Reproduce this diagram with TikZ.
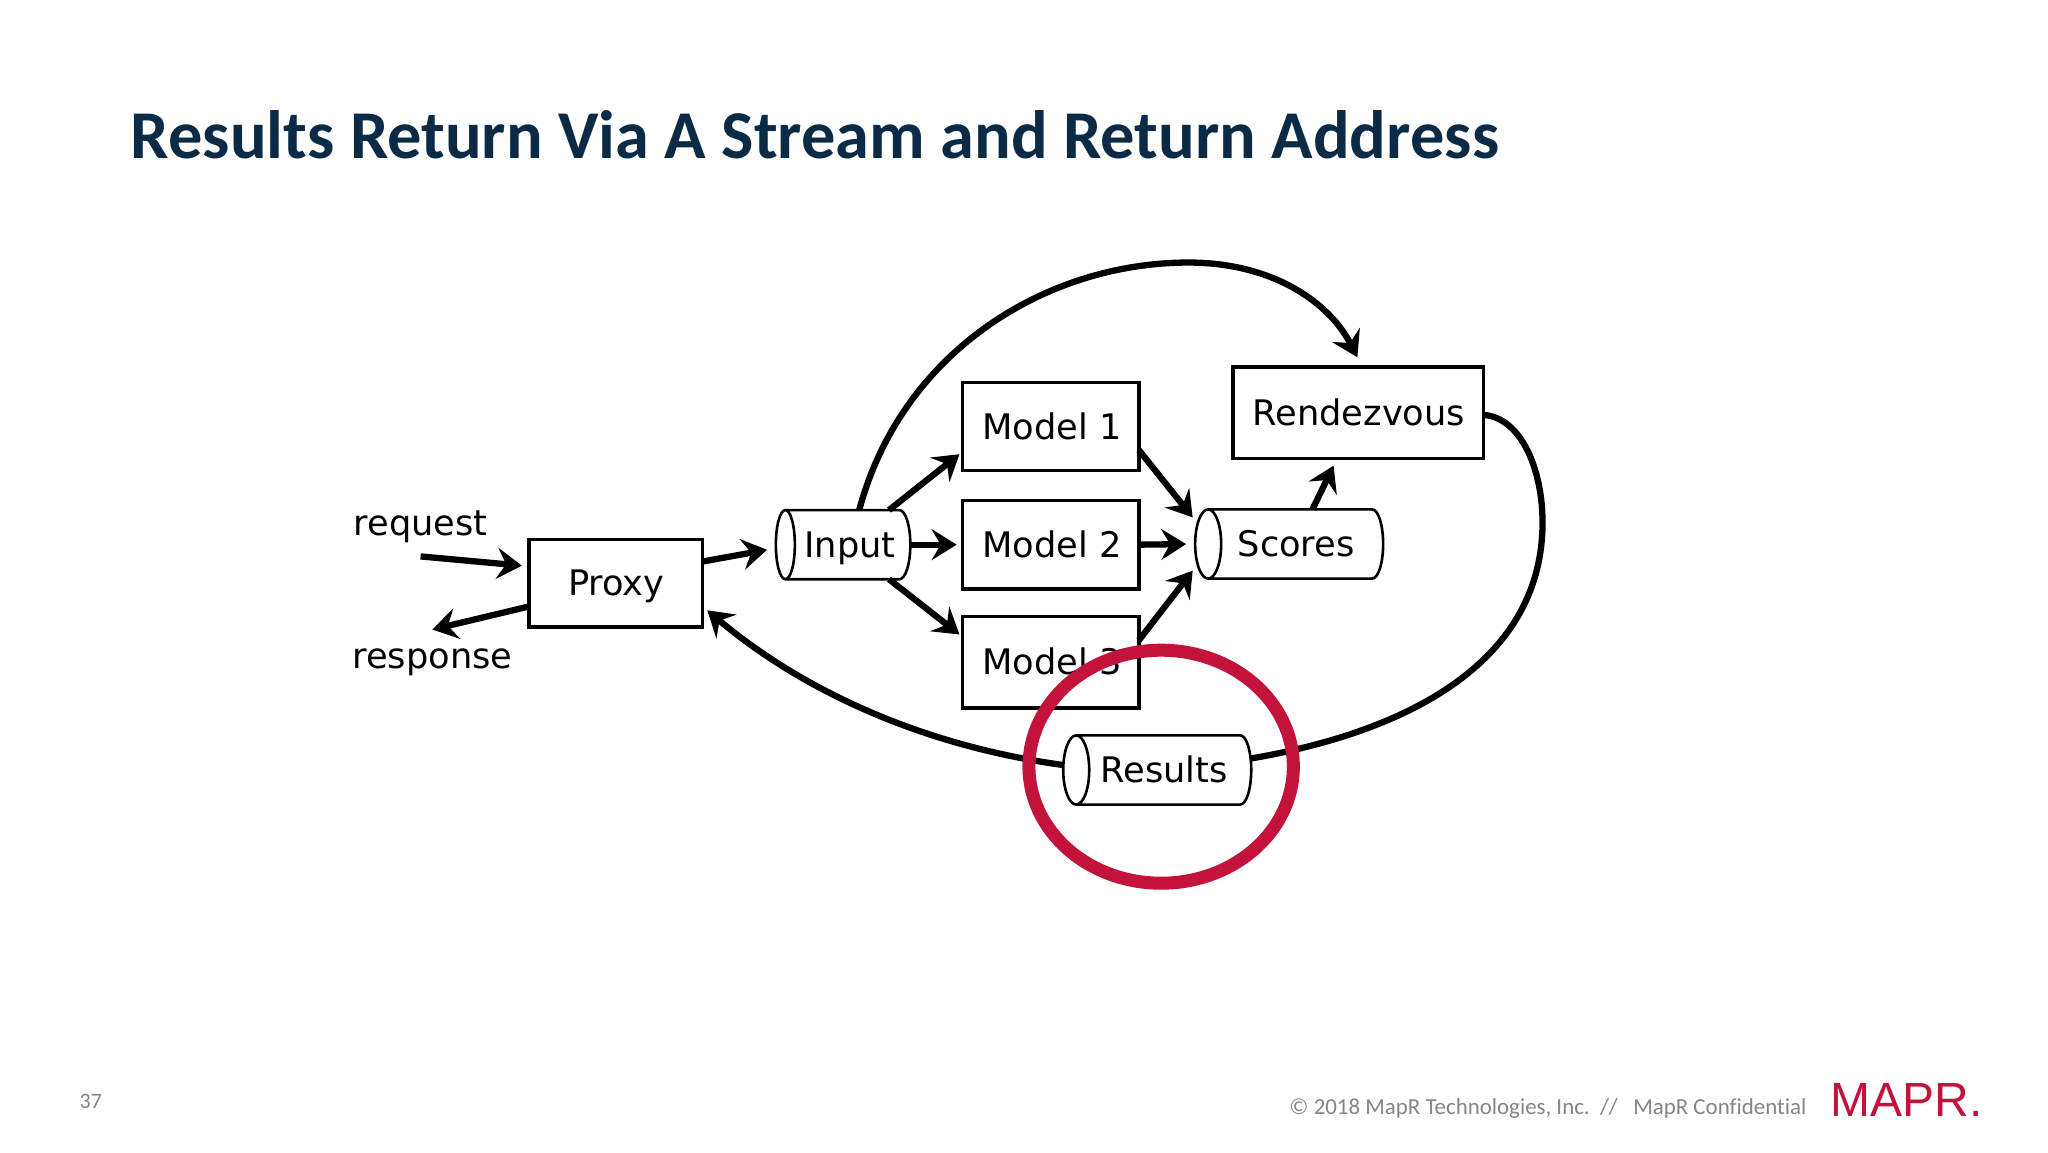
\documentclass[tikz,border=0pt]{standalone}
\usepackage{fontspec}
\setmainfont{DejaVu Sans}
\newfontfamily\slidefont[Ligatures=NoCommon]{Carlito}
\newfontfamily\logofont{Liberation Sans}
\usetikzlibrary{arrows.meta}
\definecolor{titlenavy}{HTML}{0B2A45}
\definecolor{ringred}{HTML}{C4133A}
\definecolor{footgray}{HTML}{858585}
\tikzset{
  diagramtext/.style={font=\fontsize{35.2}{40}\selectfont,text=black,inner sep=0pt,outer sep=0pt},
  box/.style={diagramtext,draw=black,line width=3.2pt,text height=25.5pt,text depth=0pt,align=center},
  cylnode/.style={diagramtext,text height=25.5pt,text depth=0pt},
  cylline/.style={draw=black,line width=2.6pt,line join=round},
  conn/.style={draw=black,line width=6.3pt,-{Stealth[length=25pt,width=31pt,inset=9pt]}},
  plainconn/.style={draw=black,line width=6.3pt},
  ring/.style={draw=ringred,line width=13pt},
  foot/.style={font=\slidefont\fontsize{22}{26}\selectfont,text=footgray,inner sep=0pt,outer sep=0pt},
}
\newcommand{\drawcyl}[2]{%
  \draw[cylline] ([xshift=#2]#1.north west) -- ([xshift=-11pt]#1.north east)
    arc[start angle=90,end angle=-90,x radius=11pt,y radius=34.6pt]
    -- ([xshift=#2]#1.south west)
    arc[start angle=270,end angle=-90,x radius=#2,y radius=34.6pt];}
\begin{document}
\begin{tikzpicture}[x=1.30612pt,y=-1.30612pt]
\useasboundingbox (0,0) rectangle (1568,882);
\fill[white] (0,0) rectangle (1568,882);
% title
\node[font=\slidefont\bfseries\fontsize{68.4}{74}\selectfont,text=titlenavy,anchor=base west,inner sep=0pt] (title) at (100,121) {Results Return Via A Stream and Return Address};
% boxes
\node[box,minimum width=173.7pt,minimum height=87.5pt] (proxy) at (471.5,446.5) {\hspace*{1pt}Proxy};
\node[box,minimum width=176.3pt,minimum height=87.5pt] (m1) at (804.5,326.5) {\hspace*{2pt}Model 1};
\node[box,minimum width=176.3pt,minimum height=88.8pt] (m2) at (804.5,417) {\hspace*{2pt}Model 2};
\node[box,minimum width=176.3pt,minimum height=91.4pt] (m3) at (804.5,507) {\hspace*{2pt}Model 3};
\node[box,minimum width=250.8pt,minimum height=91.4pt] (rv) at (1040,316) {\hspace*{1pt}Rendezvous};
% cylinders
\node[cylnode,minimum width=134.5pt,minimum height=69.2pt] (input) at (645.5,417) {\hspace*{14pt}Input};
\node[cylnode,minimum width=188pt,minimum height=69.2pt] (scores) at (987,416.5) {\hspace*{14pt}Scores};
\node[cylnode,minimum width=188pt,minimum height=69.2pt] (results) at (886,589.5) {\hspace*{14pt}Results};
\drawcyl{input}{9.5pt}\drawcyl{scores}{13pt}\drawcyl{results}{13pt}
% labels
\node[diagramtext,anchor=base] (req) at (322,410) {request};
\node[diagramtext,anchor=base] (resp) at (331,512) {response};
\coordinate (reqstart) at (322,426);
\coordinate (respend) at (331,482);
\coordinate (arcpeak) at (910,201);
\coordinate (rightbulge) at (1181,400);
% connectors
\draw[conn,shorten >=7pt] (reqstart) -- (proxy.169);
\draw[conn] (proxy.195) -- (respend);
\draw[conn,shorten >=9pt] (proxy.14) -- (input.183);
\draw[conn,shorten >=4pt] (input.37) -- (m1.196);
\draw[conn,shorten >=6pt] (input.east) -- (m2.west);
\draw[conn,shorten >=4pt] (input.-37) -- (m3.164);
\draw[conn,shorten >=4pt] (m1.-15) -- (scores.166);
\draw[conn,shorten >=9pt] (m2.east) -- (scores.west);
\draw[conn,shorten >=4pt] (m3.14) -- (scores.194);
\draw[conn,shorten >=8pt] (scores.56) -- (rv.245);
\draw[conn,shorten >=11pt] (input.65) .. controls (690,270) and (800,201) .. (arcpeak) .. controls (975,201) and (1018,232) .. (rv.85);
\draw[plainconn] (rv.-1) .. controls (1165,320) and (1181,360) .. (rightbulge) .. controls (1181,500) and (1090,558) .. (results.7);
\draw[conn,shorten >=6pt] (results.177) .. controls (700,570) and (610,525) .. (proxy.-15);
% highlight ring
\draw[ring] (889,587) ellipse[x radius=132.2pt,y radius=116.5pt];
% footer
\node[foot,anchor=base west] (page) at (61,849) {37};
\node[foot,font=\slidefont\fontsize{22.9}{26}\selectfont,anchor=base east] (copy) at (1383,853) {© 2018 MapR Technologies, Inc.\ \ //\ \ \ MapR Confidential};
\node[font=\logofont\fontsize{48}{50}\selectfont,text=ringred,anchor=base east,inner sep=0pt] (logo) at (1518,855) {MAPR.};
\end{tikzpicture}
\end{document}
